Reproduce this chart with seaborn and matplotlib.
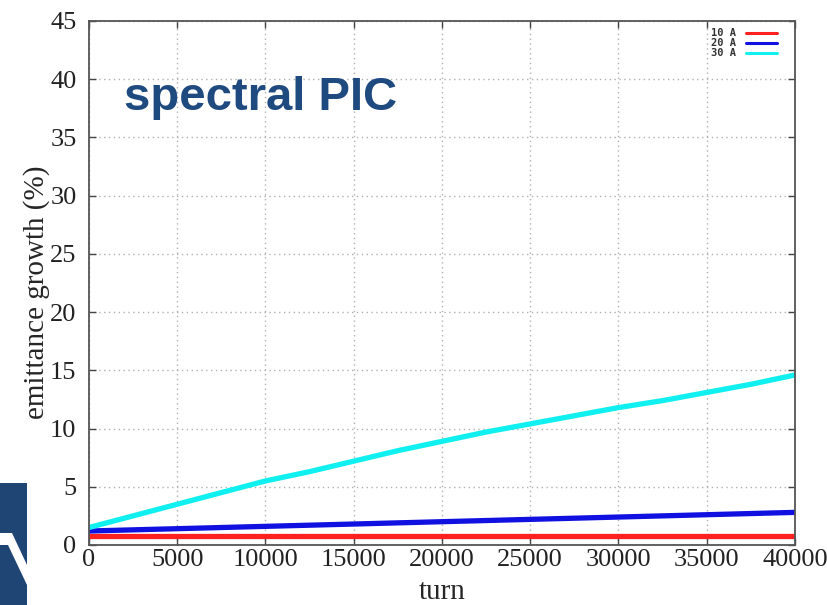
import numpy as np
import pandas as pd
import matplotlib
matplotlib.use("Agg")
import matplotlib.pyplot as plt
from matplotlib.patches import Rectangle, Polygon
import seaborn as sns

# Emittance growth (%) versus turn number for three beam currents
turns = [0, 2500, 5000, 7500, 10000, 12500, 15000, 17500, 20000,
         22500, 25000, 27500, 30000, 32500, 35000, 37500, 40000]
growth_10A = [0.8, 0.8, 0.8, 0.8, 0.8, 0.8, 0.8, 0.8, 0.8,
              0.8, 0.8, 0.8, 0.8, 0.8, 0.8, 0.8, 0.8]
growth_20A = [1.2, 1.3, 1.4, 1.5, 1.6, 1.7, 1.8, 1.9, 2.0,
              2.1, 2.2, 2.3, 2.4, 2.5, 2.6, 2.7, 2.8]
growth_30A = [1.5, 2.5, 3.5, 4.5, 5.5, 6.3, 7.2, 8.1, 8.9,
              9.7, 10.4, 11.1, 11.8, 12.4, 13.1, 13.8, 14.6]
currents = ["10 A", "20 A", "30 A"]
colors = ["#ff2020", "#1010e0", "#10f0f0"]

df = pd.concat([
    pd.DataFrame({"turn": turns, "growth": g, "current": c})
    for c, g in zip(currents, [growth_10A, growth_20A, growth_30A])
])

sns.set_style("white")
plt.rcParams["font.family"] = ["Liberation Serif", "DejaVu Serif"]

fig = plt.figure(figsize=(8.27, 6.05), dpi=100)
ax = fig.add_axes([0.1076, 0.0992, 0.8537, 0.8661])

sns.lineplot(data=df, x="turn", y="growth", hue="current",
             palette=dict(zip(currents, colors)), linewidth=3.8, ax=ax)

ax.set_xlim(0, 40000)
ax.set_ylim(0, 45)
ax.set_xticks(range(0, 40001, 5000))
ax.set_yticks(range(0, 46, 5))
ax.tick_params(direction="in", length=5, width=1, colors="#444444",
               labelcolor="#222222", labelsize=19, top=True, right=True,
               bottom=True, left=True)
ax.tick_params(axis="y", pad=9)
ax.tick_params(axis="x", pad=3)
ax.grid(True, linestyle=(0, (1, 2.5)), color="#b0b0b0", linewidth=1)
for s in ax.spines.values():
    s.set_color("#555555")
    s.set_linewidth(1.3)

ax.set_xlabel("turn", fontsize=21, labelpad=6)
ax.set_ylabel("emittance growth (%)", fontsize=21, va="center")
ax.yaxis.set_label_coords(-0.0737, 0.483)

leg = ax.legend(loc="upper right", frameon=False, markerfirst=False,
                prop={"family": "DejaVu Sans Mono", "weight": "bold", "size": 7.5},
                handlelength=3.0, labelspacing=0.0, borderaxespad=0.3,
                handletextpad=0.9, bbox_to_anchor=(0.985, 1.0))
for t in leg.get_texts():
    t.set_color("#333333")
for h in leg.legend_handles:
    h.set_linewidth(2.2)

ax.text(0.05, 0.853, "spectral PIC", transform=ax.transAxes,
        fontsize=34, fontweight="bold", color="#1f4a7f",
        family=["Liberation Sans", "DejaVu Sans"], va="center", ha="left")

# slide logo strip at the lower left
fig.patches.append(Rectangle((0, 0), 27 / 827, 122 / 605, transform=fig.transFigure,
                             facecolor="#1f4574", edgecolor="none", zorder=0))
fig.patches.append(Polygon([(0, 60 / 605), (8 / 827, 60 / 605), (27 / 827, 20 / 605),
                            (27 / 827, 40 / 605), (12 / 827, 72 / 605), (0, 72 / 605)],
                           closed=True, transform=fig.transFigure,
                           facecolor="white", edgecolor="none", zorder=1))

fig.savefig("out.png", dpi=100)
